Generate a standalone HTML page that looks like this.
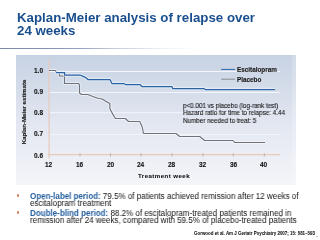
<!DOCTYPE html>
<html><head><meta charset="utf-8">
<style>
.g{will-change:transform;}
html,body{margin:0;padding:0;background:#fff;}
body{width:320px;height:240px;position:relative;overflow:hidden;font-family:"Liberation Sans",sans-serif;}
.a{position:absolute;white-space:pre;}
#title{left:17px;top:11px;font-size:13.3px;font-weight:bold;color:#1a4f8e;line-height:13px;}
#rule{position:absolute;left:0;top:48px;width:320px;height:1px;background:linear-gradient(to right,#7c8aab 0%,#8391b2 15%,#98a3bf 25%,#c8cedc 37%,#eceef3 50%,#fff 62%);}
#panel{position:absolute;left:16px;top:55px;width:279.5px;height:130px;background:linear-gradient(to bottom,#c7d2e3 0%,#e1e6f0 50%,#f4f5f9 100%);}
.ax{font-size:6.5px;font-weight:bold;color:#111;-webkit-text-stroke:0.1px #111;}
.note{font-size:6.7px;color:#111;line-height:7.3px;transform:scaleX(0.94);transform-origin:0 0;-webkit-text-stroke:0.1px currentColor;}
.leg{-webkit-text-stroke:0.12px #111;font-size:6.35px;font-weight:bold;color:#1a1a1a;}
#bul{position:absolute;left:30px;top:192.6px;font-size:8.3px;line-height:7.35px;color:#111;transform:scaleX(0.964);transform-origin:0 0;}
#bul p{margin:0 0 2.2px 0;white-space:pre;}
#bul b{color:#245e9e;}
.dot{position:absolute;width:2.6px;height:2.6px;border-radius:50%;background:#c8865a;}
#cite{position:absolute;left:193.8px;top:230.8px;font-size:4.45px;font-weight:bold;color:#111;white-space:pre;-webkit-text-stroke:0.05px #111;}
</style></head><body>
<div id="title" class="a g">Kaplan-Meier analysis of relapse over
24 weeks</div>
<div id="rule"></div>
<div id="panel"></div>
<div style="position:absolute;left:291.5px;top:55px;width:4px;height:130px;background:rgba(255,255,255,0.2)"></div>
<svg width="320" height="240" style="position:absolute;left:0;top:0" viewBox="0 0 320 240">
  <!-- gridlines -->
  <g stroke="#f3f5fa" stroke-width="1">
    <line x1="49" y1="71.5" x2="280" y2="71.5"/>
    <line x1="49" y1="92.5" x2="280" y2="92.5"/>
    <line x1="49" y1="112.7" x2="280" y2="112.7"/>
    <line x1="49" y1="134.5" x2="280" y2="134.5"/>
  </g>
  <!-- axes -->
  <g stroke="#e8cabb" stroke-width="1.2">
    <line x1="49.1" y1="60" x2="49.1" y2="158.3"/>
    <line x1="47.5" y1="154.7" x2="280" y2="154.7"/>
  </g>
  <g stroke="#b9a79c" stroke-width="0.8">
    <line x1="80" y1="153.2" x2="80" y2="156.6"/>
    <line x1="110.5" y1="153.2" x2="110.5" y2="156.6"/>
    <line x1="141" y1="153.2" x2="141" y2="156.6"/>
    <line x1="172" y1="153.2" x2="172" y2="156.6"/>
    <line x1="203" y1="153.2" x2="203" y2="156.6"/>
    <line x1="233.3" y1="153.2" x2="233.3" y2="156.6"/>
    <line x1="264.3" y1="153.2" x2="264.3" y2="156.6"/>
  </g>
  <!-- placebo -->
  <polyline fill="none" stroke="rgba(250,252,255,0.55)" stroke-width="3.2" stroke-linejoin="round" points="49,70.5 55.6,70.5 56.5,72.5 59.4,72.5 59.4,76 64.5,76 64.5,83.5 78.7,83.5 79.5,85 79.5,93 81.6,94.5 87.9,94.5 93.5,96.7 97.9,98.2 102.2,99 106.6,101.7 109.8,103.6 109.9,108.7 112.9,114.4 115.4,118.5 125.4,118.5 128.5,121.5 139.7,121.5 142.2,127 143.5,133.5 176,133.5 179.7,136.5 199.7,136.5 204.7,140.5 233,140.5 234.6,142.5 265,142.5"/>
  <polyline fill="none" stroke="#6f7278" stroke-width="1.15" stroke-linejoin="round" points="49,70.5 55.6,70.5 56.5,72.5 59.4,72.5 59.4,76 64.5,76 64.5,83.5 78.7,83.5 79.5,85 79.5,93 81.6,94.5 87.9,94.5 93.5,96.7 97.9,98.2 102.2,99 106.6,101.7 109.8,103.6 109.9,108.7 112.9,114.4 115.4,118.5 125.4,118.5 128.5,121.5 139.7,121.5 142.2,127 143.5,133.5 176,133.5 179.7,136.5 199.7,136.5 204.7,140.5 233,140.5 234.6,142.5 265,142.5"/>
  <!-- escitalopram -->
  <polyline fill="none" stroke="rgba(235,245,255,0.6)" stroke-width="3.4" stroke-linejoin="round" points="56,72.5 64.6,72.5 64.6,75 80,75 83.7,76.6 86,77.8 87.8,79.5 110,79.5 111.9,83.5 123.7,83.5 125.6,84.5 140,84.5 141.9,86.5 171.9,86.5 172.7,88.5 203.7,88.5 205.3,89.5 275,89.5"/>
  <polyline fill="none" stroke="#2c63a2" stroke-width="1.25" stroke-linejoin="round" points="56,72.5 64.6,72.5 64.6,75 80,75 83.7,76.6 86,77.8 87.8,79.5 110,79.5 111.9,83.5 123.7,83.5 125.6,84.5 140,84.5 141.9,86.5 171.9,86.5 172.7,88.5 203.7,88.5 205.3,89.5 275,89.5"/>
  <!-- legend lines -->
  <line x1="221.2" y1="69.4" x2="235" y2="69.4" stroke="#2a66ad" stroke-width="1"/>
  <line x1="221.2" y1="79.2" x2="235" y2="79.2" stroke="#8a8c90" stroke-width="1"/>
</svg>
<div class="a ax g" style="left:34px;top:66.9px">1.0</div>
<div class="a ax g" style="left:34px;top:88.2px">0.9</div>
<div class="a ax g" style="left:34px;top:109.1px">0.8</div>
<div class="a ax g" style="left:34px;top:130.15px">0.7</div>
<div class="a ax g" style="left:34px;top:151.7px">0.6</div>
<div class="a ax g" style="left:45.1px;top:160.8px">12</div>
<div class="a ax g" style="left:76.1px;top:160.8px">16</div>
<div class="a ax g" style="left:106.6px;top:160.8px">20</div>
<div class="a ax g" style="left:137.1px;top:160.8px">24</div>
<div class="a ax g" style="left:168.1px;top:160.8px">28</div>
<div class="a ax g" style="left:199.1px;top:160.8px">32</div>
<div class="a ax g" style="left:229.6px;top:160.8px">36</div>
<div class="a ax g" style="left:260.1px;top:160.8px">40</div>
<div class="a ax g" style="left:137.5px;top:172.1px;font-size:6.1px;letter-spacing:0.45px;-webkit-text-stroke:0.1px #1a1a1a">Treatment week</div>
<div class="a ax" id="ytitle" style="left:23px;top:111.5px;font-size:6.1px;-webkit-text-stroke:0.1px #1a1a1a;transform:translate(-50%,-50%) rotate(-90deg);transform-origin:center">Kaplan-Meier estimate</div>
<div class="a leg g" style="left:237px;top:65.9px">Escitalopram</div>
<div class="a leg g" style="left:237px;top:76.2px">Placebo</div>
<div class="a note g" style="left:183.2px;top:101.5px">p&lt;0.001 vs placebo (log-rank test)
Hazard ratio for time to relapse: 4.44
Number needed to treat: 5</div>
<div class="dot" style="left:16.6px;top:194.2px"></div>
<div class="dot" style="left:16.6px;top:211.2px"></div>
<div id="bul" class="g"><p><b>Open-label period:</b> 79.5% of patients achieved remission after 12 weeks of
escitalopram treatment</p><p><b>Double-blind period:</b> 88.2% of escitalopram-treated patients remained in
remission after 24 weeks, compared with 59.5% of placebo-treated patients</p></div>
<div id="cite" class="g">Gorwood et al. Am J Geriatr Psychiatry 2007; 15: 581–593</div>
<div style="position:absolute;left:315.8px;top:236px;width:2.2px;height:1.2px;background:#d9c0b0"></div>
</body></html>
